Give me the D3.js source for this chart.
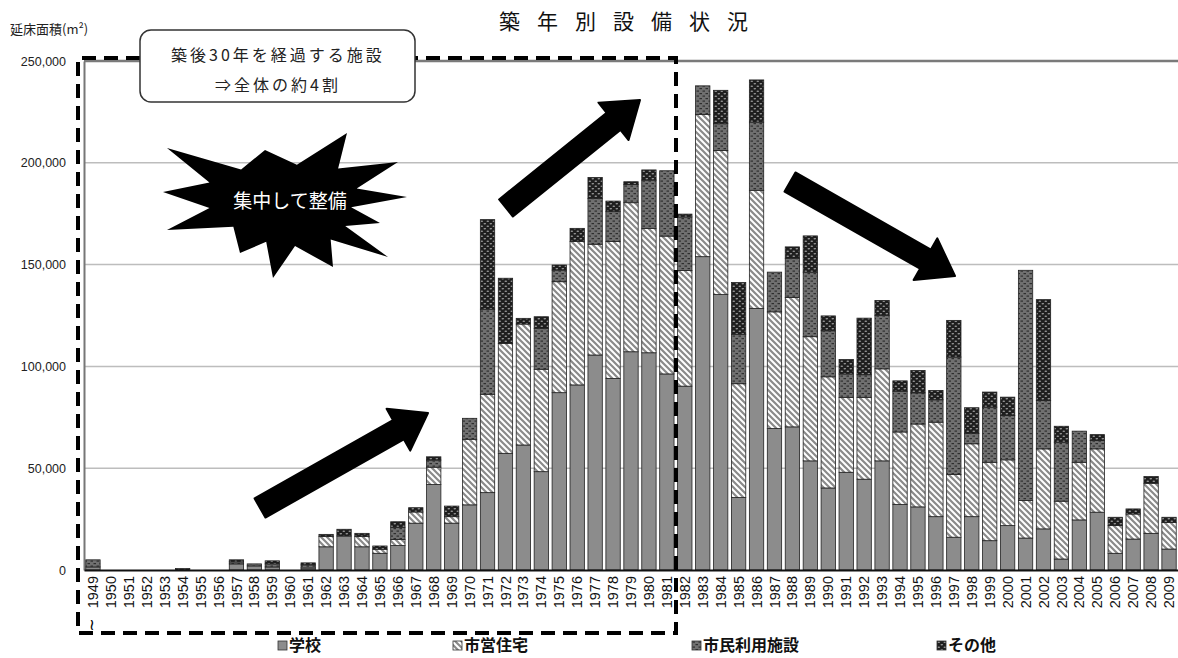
<!DOCTYPE html>
<html>
<head>
<meta charset="utf-8">
<script src="https://cdn.jsdelivr.net/npm/d3@7"></script>
<style>
  body { margin: 0; background: #fff; }
  text { font-family: "Noto Sans CJK JP", "Liberation Sans", sans-serif; }
</style>
</head>
<body>
<div id="chart"></div>
<script>
// 築年別 延床面積 (m2)
const years = d3.range(1949, 2010).map(String);
const seriesNames = ["学校", "市営住宅", "市民利用施設", "その他"];

const school = [1500,0,0,0,0,0,0,0,3000,2000,1500,0,1000,11400,16700,11400,8200,12000,23000,42000,
  23000,32000,38000,57300,61400,48300,87100,90900,105600,94100,107200,106700,96300,90300,153900,135300,
  35600,128500,69500,70300,53600,40300,48000,44600,53600,32200,31000,26200,16100,26200,14400,21800,
  15700,20200,5400,24600,28400,8200,15200,18000,10300];
const housing = [0,0,0,0,0,0,0,0,0,0,0,0,0,5000,0,5000,2000,3000,5500,8500,
  3200,32200,48300,54000,59400,50300,54500,70500,54400,67300,73200,61100,67700,56800,69800,70800,
  55900,58000,57300,63600,61000,54600,36800,40200,45200,35600,40700,46400,30800,35800,38500,32300,
  18400,39300,28400,28300,31100,13600,12300,24600,13100];
const civic = [3500,0,0,0,0,0,0,0,1000,1000,1500,0,1500,0,0,0,0,6000,0,3500,
  0,10300,41800,0,0,20100,5700,0,22500,14600,9000,23700,32100,26300,14100,13100,
  24300,33500,19500,19200,31700,22600,11500,11100,26300,20000,15300,11000,57700,5000,27100,21800,
  113100,23800,29000,15300,4100,0,0,0,0];
const other = [0,0,0,0,0,700,0,0,1000,0,1500,0,1000,1100,3300,1600,1600,2700,2100,1600,
  5200,0,44000,32000,2800,5700,2500,6400,10300,5200,1300,5000,0,1400,0,16400,
  25400,20700,0,5600,17800,7300,7100,27800,7300,5100,11000,4600,18000,12700,7400,9000,
  0,49500,7800,0,2900,4100,2500,3300,2500];
const yTicks = [0, 50000, 100000, 150000, 200000, 250000];

const W = 1178, H = 658;
const x0 = 84, x1 = 1178, yBase = 570, yTop = 61;

const svg = d3.select("#chart").append("svg")
    .attr("width", W).attr("height", H);

// patterns
const defs = svg.append("defs");
const pHatch = defs.append("pattern").attr("id", "p-housing")
    .attr("patternUnits", "userSpaceOnUse").attr("width", 6).attr("height", 6);
pHatch.append("rect").attr("width", 6).attr("height", 6).attr("fill", "#fff");
pHatch.append("path").attr("d", "M0,0L6,6M-2,4L2,8M4,-2L8,2")
    .attr("stroke", "#8a8a8a").attr("stroke-width", 2.2);

const pCivic = defs.append("pattern").attr("id", "p-civic")
    .attr("patternUnits", "userSpaceOnUse").attr("width", 6).attr("height", 5);
pCivic.append("rect").attr("width", 6).attr("height", 5).attr("fill", "#707070");
pCivic.append("rect").attr("x", 0.5).attr("y", 0.5).attr("width", 2.5).attr("height", 1.2).attr("fill", "#2e2e2e");
pCivic.append("rect").attr("x", 3.5).attr("y", 3).attr("width", 2.5).attr("height", 1.2).attr("fill", "#2e2e2e");

const pOther = defs.append("pattern").attr("id", "p-other")
    .attr("patternUnits", "userSpaceOnUse").attr("width", 6).attr("height", 5);
pOther.append("rect").attr("width", 6).attr("height", 5).attr("fill", "#1e1e1e");
pOther.append("ellipse").attr("cx", 1.8).attr("cy", 1.2).attr("rx", 1.3).attr("ry", 0.8).attr("fill", "#999");
pOther.append("ellipse").attr("cx", 4.8).attr("cy", 3.7).attr("rx", 1.3).attr("ry", 0.8).attr("fill", "#999");

const fills = ["#8c8c8c", "url(#p-housing)", "url(#p-civic)", "url(#p-other)"];

// scales
const x = d3.scaleBand().domain(years).range([x0, x1]).paddingInner(0.2).paddingOuter(0.1);
const y = d3.scaleLinear().domain([0, 250000]).range([yBase, yTop]);

// gridlines
svg.append("g").selectAll("line").data(yTicks.filter(d => d > 0)).enter().append("line")
    .attr("x1", x0).attr("x2", x1)
    .attr("y1", d => y(d)).attr("y2", d => y(d))
    .attr("stroke", d => d === 250000 ? "#7a7a7a" : "#bdbdbd")
    .attr("stroke-width", d => d === 250000 ? 2.5 : 1.5);

// y axis
const yAxis = svg.append("g").attr("transform", `translate(${x0},0)`)
    .call(d3.axisLeft(y).tickValues(yTicks).tickSize(0).tickPadding(18).tickFormat(d3.format(",")));
yAxis.select(".domain").attr("stroke", "#777").attr("stroke-width", 2);
yAxis.selectAll("text").style("font-family", "Liberation Sans, sans-serif").style("font-size", "12.5px").attr("fill", "#222");

// stacked bars
const rows = years.map((yr, i) => ({ year: yr, s0: school[i], s1: housing[i], s2: civic[i], s3: other[i] }));
const stack = d3.stack().keys(["s0", "s1", "s2", "s3"])(rows);

svg.append("g").selectAll("g").data(stack).enter().append("g")
    .attr("fill", (d, i) => fills[i])
  .selectAll("rect").data(d => d.filter(p => p[1] - p[0] > 0)).enter().append("rect")
    .attr("x", d => x(d.data.year))
    .attr("width", x.bandwidth())
    .attr("y", d => y(d[1]))
    .attr("height", d => y(d[0]) - y(d[1]))
    .attr("stroke", "#222").attr("stroke-width", 0.8);

// x axis
const xAxis = svg.append("g").attr("transform", `translate(0,${yBase})`)
    .call(d3.axisBottom(x).tickSize(0).tickPadding(0));
xAxis.select(".domain").attr("stroke", "#111").attr("stroke-width", 2);
xAxis.selectAll("text")
    .style("font-family", "Liberation Sans, sans-serif").style("font-size", "14.5px").attr("fill", "#111")
    .attr("text-anchor", "end")
    .attr("transform", "rotate(-90)")
    .attr("x", -6).attr("y", 0).attr("dy", "0.35em");
const tx = x(years[0]) + x.bandwidth() / 2;
svg.append("text").attr("x", tx).attr("y", 625).attr("dy", "0.35em")
    .attr("text-anchor", "middle").style("font-family", "DejaVu Sans, sans-serif").style("font-size", "16px")
    .attr("transform", `rotate(90,${tx},625)`).text("~");

// title and y label
svg.append("text").attr("x", 632).attr("y", 29).attr("text-anchor", "middle")
    .style("font-size", "21px").style("letter-spacing", "17px").attr("fill", "#111").text("築年別設備状況");
svg.append("text").attr("x", 10).attr("y", 34).style("font-size", "13px").attr("fill", "#222")
    .text("延床面積(m²)");

// dashed frame around bars older than 30 years
svg.append("path")
    .attr("d", "M140,58H78V633H676V58H415")
    .attr("fill", "none").attr("stroke", "#000").attr("stroke-width", 4)
    .attr("stroke-dasharray", "14,8");

svg.append("rect").attr("x", 140).attr("y", 30).attr("width", 275).attr("height", 72).attr("rx", 11)
    .attr("fill", "#fff").attr("stroke", "#333").attr("stroke-width", 1.5);
svg.append("text").attr("x", 278).attr("y", 61).attr("text-anchor", "middle")
    .style("font-size", "16px").style("letter-spacing", "3px").attr("fill", "#222").text("築後30年を経過する施設");
svg.append("text").attr("x", 278).attr("y", 91).attr("text-anchor", "middle")
    .style("font-size", "16px").style("letter-spacing", "3px").attr("fill", "#222").text("⇒全体の約4割");

// starburst
const spikes = [[167,148],[265,150],[347,133],[398,162],[407,197],[380,223],[388,257],[333,267],[273,278],[240,253],[167,230],[163,192]];
const cx = 282, cy = 203;
const starPts = [];
spikes.forEach((p, i) => {
  const q = spikes[(i + 1) % spikes.length];
  starPts.push(p);
  const mx = (p[0] + q[0]) / 2, my = (p[1] + q[1]) / 2;
  starPts.push([cx + (mx - cx) * 0.62, cy + (my - cy) * 0.62]);
});
svg.append("polygon").attr("points", starPts.map(p => p.join(",")).join(" ")).attr("fill", "#000");
svg.append("text").attr("x", 290).attr("y", 208).attr("text-anchor", "middle")
    .style("font-size", "19px").attr("fill", "#fff").text("集中して整備");

// arrows
function arrow(xa, ya, xb, yb) {
  const len = Math.hypot(xb - xa, yb - ya);
  const sw = 11, hw = 24, hl = 34;
  const a = Math.atan2(yb - ya, xb - xa) * 180 / Math.PI;
  const pts = [[0,-sw],[len-hl,-sw],[len-hl,-hw],[len,0],[len-hl,hw],[len-hl,sw],[0,sw]];
  svg.append("polygon").attr("points", pts.map(p => p.join(",")).join(" "))
      .attr("transform", `translate(${xa},${ya}) rotate(${a})`)
      .attr("fill", "#000").attr("stroke", "#000").attr("stroke-width", 2).attr("stroke-linejoin", "round");
}
arrow(260, 508, 428, 413);
arrow(506, 208, 640, 100);
arrow(790, 182, 955, 276);

// legend
const legendX = [278, 453, 692, 937];
const lg = svg.append("g").selectAll("g").data(seriesNames).enter().append("g")
    .attr("transform", (d, i) => `translate(${legendX[i]},651)`);
lg.append("rect").attr("x", 0).attr("y", -10).attr("width", 9).attr("height", 9)
    .attr("fill", (d, i) => fills[i]).attr("stroke", "#333").attr("stroke-width", 0.8);
lg.append("text").attr("x", 11).attr("y", 0).style("font-size", "16px").style("font-weight", "bold")
    .attr("fill", "#111").text(d => d);
</script>
</body>
</html>
